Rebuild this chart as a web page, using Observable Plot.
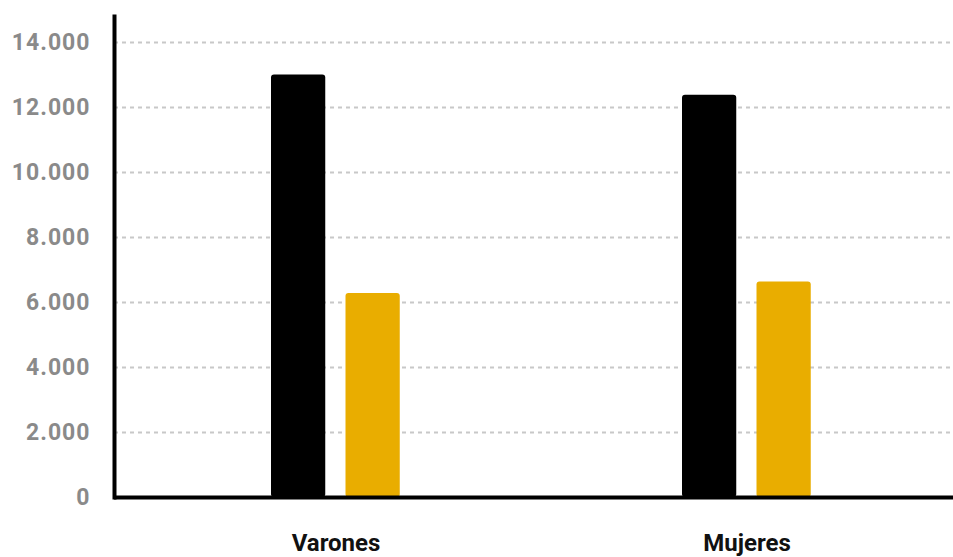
<!DOCTYPE html>
<html>
<head>
<meta charset="utf-8">
<script src="https://cdn.jsdelivr.net/npm/d3@7"></script>
<script src="https://cdn.jsdelivr.net/npm/@observablehq/plot@0.6"></script>
<style>
  html, body { margin: 0; padding: 0; background: #fff; }
  #chart { width: 953px; height: 557px; }
  g[aria-label="y-axis tick label"] text { letter-spacing: 1px; }
</style>
</head>
<body>
<div id="chart"></div>
<script>
const categories = ["Varones", "Mujeres"];
const serie1Values = [13000, 12380];
const serie2Values = [6280, 6630];
const yTicks = [0, 2000, 4000, 6000, 8000, 10000, 12000, 14000];

const serie1 = categories.map((c, i) => ({category: c, value: serie1Values[i]}));
const serie2 = categories.map((c, i) => ({category: c, value: serie2Values[i]}));

const locale = d3.formatLocale({decimal: ",", thousands: ".", grouping: [3], currency: ["", ""]});
const fmt = locale.format(",d");

const chart = Plot.plot({
  width: 953,
  height: 557,
  marginTop: 16,
  marginBottom: 60,
  marginLeft: 114,
  marginRight: 0,
  style: {fontFamily: "Roboto, 'Liberation Sans', sans-serif", background: "#fff"},
  x: {domain: categories, range: [129.5, 953], padding: 0, label: null},
  y: {domain: [0, 14800], label: null},
  marks: [
    Plot.gridY(yTicks, {stroke: "#c8c8c8", strokeOpacity: 1, strokeWidth: 2, strokeDasharray: "4,4"}),
    Plot.barY(serie1, {x: "category", y: "value", fill: "#000", insetLeft: 141, insetRight: 215.75, rx: 3}),
    Plot.barY(serie2, {x: "category", y: "value", fill: "#E9AD00", insetLeft: 215.5, insetRight: 141.25, rx: 3}),
    Plot.axisY(yTicks, {tickSize: 0, tickPadding: 24, tickFormat: fmt, fontSize: 23, fontWeight: "bold", fill: "#8a8a8a"}),
    Plot.axisX({tickSize: 0, tickPadding: 36, fontSize: 24, fontWeight: "bold", fill: "#111"}),
    Plot.ruleY([0], {stroke: "#000", strokeWidth: 4}),
    Plot.frame({anchor: "left", stroke: "#000", strokeWidth: 4})
  ]
});
document.getElementById("chart").appendChild(chart);
</script>
</body>
</html>
